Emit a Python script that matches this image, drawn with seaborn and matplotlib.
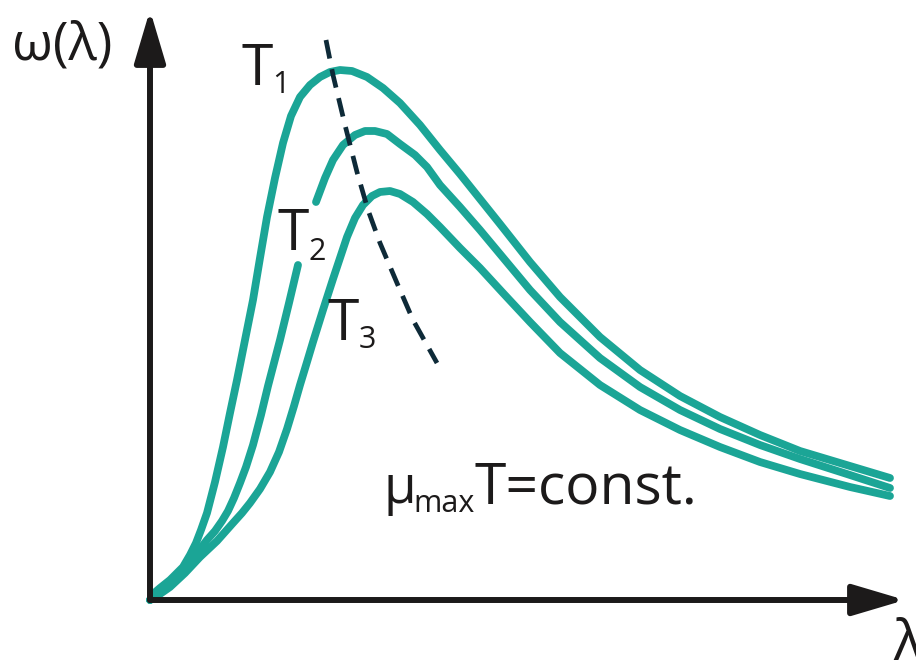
import numpy as np
import pandas as pd
import matplotlib
matplotlib.use("Agg")
import matplotlib.pyplot as plt
import seaborn as sns

sns.set_theme(style="white")
plt.rcParams["font.family"] = ["Open Sans", "DejaVu Sans"]

# Spectral curves ω(λ) for three temperatures (arbitrary units)
lam_t1 = [0.00, 0.03, 0.10, 0.20, 0.33, 0.40, 0.46, 0.51, 0.57, 0.65, 0.73, 0.80, 0.87,
          0.95, 1.03, 1.10, 1.17, 1.25, 1.33, 1.41, 1.50, 1.60, 1.70, 1.80, 1.90, 2.02,
          2.17, 2.33, 2.50, 2.70, 2.90, 3.10, 3.30, 3.50, 3.80, 4.10, 4.50, 4.90, 5.30,
          5.70, 6.10, 6.50, 7.00, 7.40]
omg_t1 = [0.00, 0.06, 0.12, 0.20, 0.33, 0.45, 0.57, 0.70, 0.87, 1.18, 1.53, 1.87, 2.20,
          2.60, 3.00, 3.42, 3.83, 4.22, 4.57, 4.84, 5.03, 5.15, 5.23, 5.28, 5.30, 5.29,
          5.23, 5.12, 4.97, 4.75, 4.50, 4.26, 4.01, 3.76, 3.38, 3.03, 2.63, 2.30, 2.04,
          1.83, 1.65, 1.49, 1.34, 1.22]

# T2 is interrupted where its label sits
lam_t2a = [0.00, 0.08, 0.18, 0.30, 0.43, 0.57, 0.65, 0.72, 0.78, 0.84, 0.90, 0.96, 1.03,
           1.11, 1.18, 1.30, 1.39, 1.48]
omg_t2a = [0.00, 0.07, 0.15, 0.27, 0.42, 0.60, 0.69, 0.79, 0.89, 1.02, 1.17, 1.33, 1.55,
           1.85, 2.14, 2.60, 2.97, 3.35]
lam_t2b = [1.66, 1.75, 1.83, 1.93, 2.05, 2.15, 2.25, 2.37, 2.50, 2.65, 2.77, 2.90, 3.10,
           3.30, 3.50, 3.80, 4.10, 4.50, 4.90, 5.30, 5.70, 6.10, 6.50, 7.00, 7.40]
omg_t2b = [3.98, 4.22, 4.40, 4.55, 4.65, 4.69, 4.69, 4.66, 4.56, 4.45, 4.33, 4.15, 3.93,
           3.70, 3.46, 3.10, 2.78, 2.42, 2.13, 1.90, 1.71, 1.55, 1.41, 1.25, 1.12]

lam_t3 = [0.00, 0.10, 0.20, 0.35, 0.50, 0.67, 0.83, 0.92, 1.00, 1.10, 1.20, 1.29, 1.37,
          1.44, 1.50, 1.57, 1.63, 1.73, 1.83, 1.97, 2.05, 2.13, 2.22, 2.30, 2.40, 2.50,
          2.63, 2.77, 2.90, 3.10, 3.30, 3.53, 3.80, 4.10, 4.50, 4.90, 5.30, 5.70, 6.10,
          6.50, 7.00, 7.40]
omg_t3 = [0.00, 0.06, 0.13, 0.27, 0.43, 0.59, 0.77, 0.87, 0.97, 1.11, 1.28, 1.48, 1.71,
          1.94, 2.15, 2.38, 2.58, 2.90, 3.21, 3.63, 3.82, 3.95, 4.04, 4.08, 4.09, 4.06,
          3.98, 3.86, 3.73, 3.52, 3.32, 3.07, 2.78, 2.47, 2.15, 1.90, 1.70, 1.53, 1.38,
          1.26, 1.13, 1.04]

# Locus of the maxima (Wien's displacement)
lam_peak = [1.76, 1.83, 1.95, 2.07, 2.18, 2.30, 2.47, 2.63, 2.87]
omg_peak = [5.60, 5.25, 4.75, 4.28, 3.90, 3.57, 3.17, 2.80, 2.37]

TEAL = "#1ba596"
DASH = "#0e2a38"
INK = "#1c1a1a"

fig = plt.figure(figsize=(9.16, 6.64), dpi=100)
fig.patch.set_facecolor("white")
ax = fig.add_axes([150 / 916, 64 / 664, 755 / 916, 590 / 664])
ax.set_xlim(0, 7.55)
ax.set_ylim(0, 5.90)
ax.set_axis_off()

segments = [
    ("T1", lam_t1, omg_t1),
    ("T2a", lam_t2a, omg_t2a),
    ("T2b", lam_t2b, omg_t2b),
    ("T3", lam_t3, omg_t3),
]
for name, xs, ys in segments:
    df = pd.DataFrame({"lam": xs, "omega": ys})
    sns.lineplot(data=df, x="lam", y="omega", sort=False, estimator=None, ax=ax,
                 color=TEAL, linewidth=5.6, solid_capstyle="round",
                 solid_joinstyle="round", clip_on=False, zorder=3)

df_peak = pd.DataFrame({"lam": lam_peak, "omega": omg_peak})
sns.lineplot(data=df_peak, x="lam", y="omega", sort=False, estimator=None, ax=ax,
             color=DASH, linewidth=3.4, clip_on=False, zorder=4)
peak_line = ax.lines[-1]
peak_line.set_dashes([4.0, 2.3])
peak_line.set_dash_capstyle("butt")
peak_line.set_solid_joinstyle("round")

ax.set_xlabel("")
ax.set_ylabel("")

# Axes with arrowheads
arrow_kw = dict(arrowstyle="-|>,head_length=32,head_width=9.5", mutation_scale=1,
                color=INK, lw=4.3, shrinkA=0, shrinkB=0)
ax.annotate("", xy=(1, 0), xytext=(0, 0), xycoords="axes fraction",
            textcoords="axes fraction", arrowprops=arrow_kw, zorder=5)
ax.annotate("", xy=(0, 1), xytext=(0, 0), xycoords="axes fraction",
            textcoords="axes fraction", arrowprops=arrow_kw, zorder=5)

# Axis labels
fig.text(12 / 916, 1 - 60 / 664, "ω(λ)", fontsize=38, color=INK, ha="left", va="baseline")
fig.text(893 / 916, 1 - 660 / 664, "λ", fontsize=40, color=INK, ha="left", va="baseline")

# Temperature labels
tlabels = [("1", 0.91, 5.15, 1.22, 5.07),
           ("2", 1.28, 3.50, 1.59, 3.40),
           ("3", 1.78, 2.60, 2.09, 2.52)]
for sub, xt, yt, xs_, ys_ in tlabels:
    ax.text(xt, yt, "T", fontsize=41, color=INK, ha="left", va="baseline", zorder=6)
    ax.text(xs_, ys_, sub, fontsize=22, color=INK, ha="left", va="baseline", zorder=6)

# Wien's law annotation
ax.text(2.33, 0.97, "μ", fontsize=38, color=INK, ha="left", va="baseline")
ax.text(2.63, 0.88, "max", fontsize=22, color=INK, ha="left", va="baseline")
ax.text(3.24, 0.97, "T=const.", fontsize=41, color=INK, ha="left", va="baseline")

fig.savefig("out.png", dpi=100, facecolor="white")
